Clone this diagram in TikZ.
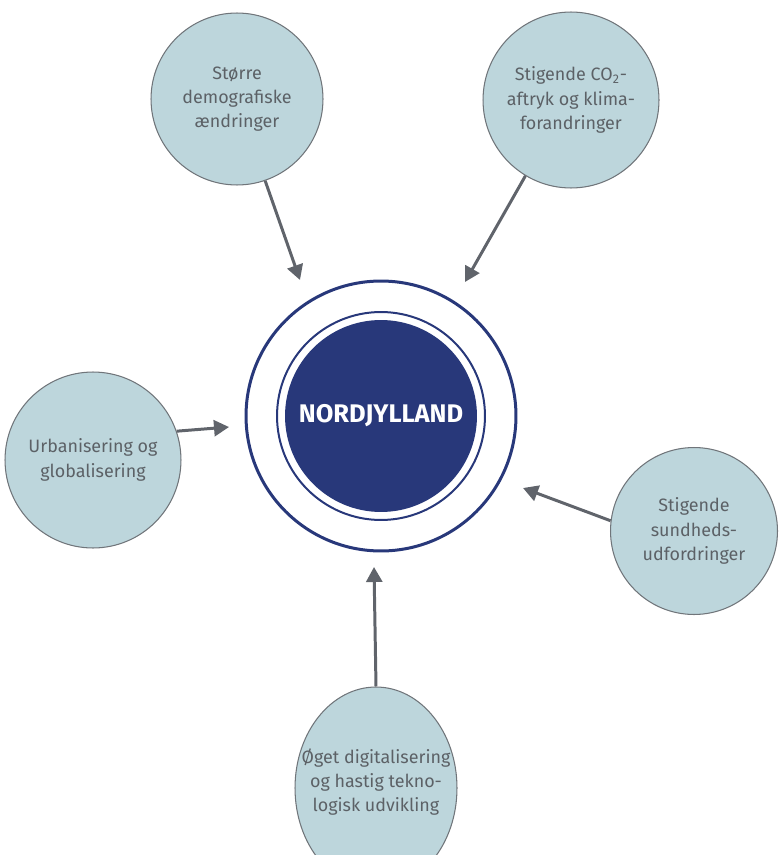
\documentclass[tikz,border=0pt]{standalone}
\usepackage{fontspec}
\setmainfont{Fira Sans}
\usetikzlibrary{arrows.meta, shapes.geometric}

\definecolor{regionblaa}{RGB}{40,56,122}
\definecolor{trendfyld}{RGB}{189,214,220}
\definecolor{trendkant}{RGB}{112,117,122}
\definecolor{pilgraa}{RGB}{96,100,107}
\definecolor{tekstgraa}{RGB}{92,97,102}

\begin{document}
\begin{tikzpicture}[x=0.02cm, y=-0.02cm,
		tekst/.style={text=tekstgraa, align=center, inner sep=0pt, font=\fontsize{10.2}{13.8}\selectfont},
		trend/.style={circle, draw=trendkant, line width=0.6pt, fill=trendfyld, tekst},
		pil/.style={draw=pilgraa, line width=1.7pt, -{Triangle[length=0.3cm, width=0.32cm]}}]
		\useasboundingbox (0,0) rectangle (779,855);
		
		%%% Centro
		\node [circle, draw=regionblaa, line width=0.06cm, minimum size=5.4cm] (ring) at (381,416) {};
		\node [circle, draw=regionblaa, line width=0.04cm, minimum size=4.16cm] (kant) at (381,416) {};
		\node [circle, fill=regionblaa, minimum size=3.84cm, text=white, font=\fontsize{14.5}{16}\bfseries\selectfont] (nord) at (381,416) {NORDJYLLAND};
		
		%%% Tendenser
		\node [trend, minimum size=3.44cm] (demo) at (237,99) {Større\\demografiske\\ændringer};
		\node [trend, minimum size=3.52cm] (klima) at (571,100) {Stigende CO\textsubscript{2}-\\aftryk og klima-\\forandringer};
		\node [trend, minimum size=3.52cm] (urban) at (93,460) {Urbanisering og\\globalisering};
		\node [trend, minimum size=3.34cm] (sund) at (694,531) {Stigende\\sundheds-\\udfordringer};
		\node [trend, ellipse, minimum width=3.24cm, minimum height=4.04cm,
			label={[tekst, yshift=0.12cm]center:Øget digitalisering\\og hastig tekno-\\logisk udvikling}] (digi) at (376,788) {};
		
		%%% Pilespidser
		\coordinate (p1) at (300,280);
		\coordinate (p2) at (465,282);
		\coordinate (p3) at (229,427);
		\coordinate (p4) at (523,488);
		\coordinate (p5) at (374,567);
		
		%%% Pile
		\draw [pil] (demo.-71) -- (p1);
		\draw [pil] (klima.-121) -- (p2);
		\draw [pil] (urban.19) -- (p3);
		\draw [pil] (sund.173) -- (p4);
		\draw [pil] (digi.north) -- (p5);
	\end{tikzpicture}
\end{document}
